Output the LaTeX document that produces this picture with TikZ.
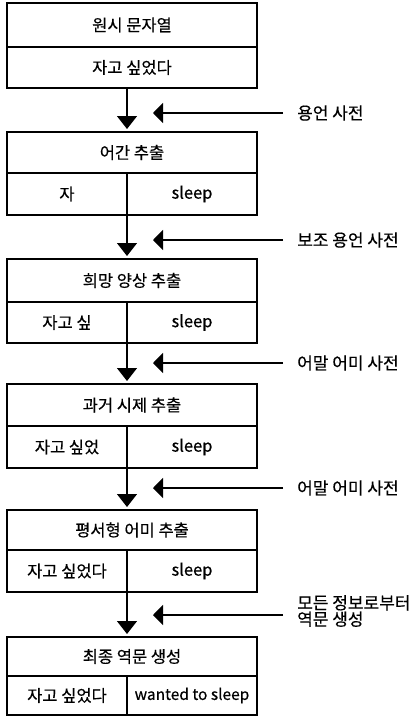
\documentclass[tikz,border=0pt]{standalone}
\usepackage{fontspec}
\setmainfont{Noto Sans CJK KR}[FakeBold=0.4]
\usetikzlibrary{arrows.meta}
\begin{document}
\begin{tikzpicture}[x=1pt,y=-1pt,
  cellbox/.style={draw,line width=1.3pt,inner sep=0pt,outer sep=0pt,anchor=north west,
    font=\fontsize{16.5}{18}\selectfont},
  flowarrow/.style={line width=1.4pt,-{Triangle[width=20pt,length=13pt]},shorten >=3pt},
  sidearrow/.style={line width=1.4pt,-{Triangle[width=20pt,length=10pt]},shorten <=14pt},
  sidelabel/.style={anchor=west,inner sep=0pt,align=left,font=\fontsize{17}{14}\selectfont}]
\useasboundingbox (0,0) rectangle (420,717);
% box 1
\node[cellbox,minimum width=250pt,minimum height=44pt] (t1) at (7,3) {원시 문자열};
\node[cellbox,minimum width=250pt,minimum height=41pt] (c1) at (7,47) {자고 싶었다};
% box 2
\node[cellbox,minimum width=250pt,minimum height=41pt] (t2) at (7,132) {어간 추출};
\node[cellbox,minimum width=120pt,minimum height=42pt] (l2) at (7,173) {자};
\node[cellbox,minimum width=130pt,minimum height=42pt] (r2) at (127,173) {sleep};
% box 3
\node[cellbox,minimum width=250pt,minimum height=43pt] (t3) at (7,259) {희망 양상 추출};
\node[cellbox,minimum width=120pt,minimum height=41pt] (l3) at (7,302) {자고 싶};
\node[cellbox,minimum width=130pt,minimum height=41pt] (r3) at (127,302) {sleep};
% box 4
\node[cellbox,minimum width=250pt,minimum height=42pt] (t4) at (7,384) {과거 시제 추출};
\node[cellbox,minimum width=120pt,minimum height=42pt] (l4) at (7,426) {자고 싶었};
\node[cellbox,minimum width=130pt,minimum height=42pt] (r4) at (127,426) {sleep};
% box 5
\node[cellbox,minimum width=250pt,minimum height=40pt] (t5) at (7,510) {평서형 어미 추출};
\node[cellbox,minimum width=120pt,minimum height=42pt] (l5) at (7,550) {자고 싶었다};
\node[cellbox,minimum width=130pt,minimum height=42pt] (r5) at (127,550) {sleep};
% box 6
\node[cellbox,minimum width=250pt,minimum height=39pt] (t6) at (7,637) {최종 역문 생성};
\node[cellbox,minimum width=120pt,minimum height=39pt] (l6) at (7,676) {자고 싶었다};
\node[cellbox,minimum width=130pt,minimum height=39pt,font=\fontsize{15.5}{17}\selectfont] (r6) at (127,676) {wanted to sleep};
% down arrows
\coordinate (a1) at (127,88);
\draw[flowarrow] (a1) -- (a1 |- t2.north);
\draw[flowarrow] (l2.south east) -- (l2.south east |- t3.north);
\draw[flowarrow] (l3.south east) -- (l3.south east |- t4.north);
\draw[flowarrow] (l4.south east) -- (l4.south east |- t5.north);
\draw[flowarrow] (l5.south east) -- (l5.south east |- t6.north);
% side labels and arrows
\node[sidelabel] (d1) at (297,113) {용언 사전};
\node[sidelabel] (d2) at (297,240) {보조 용언 사전};
\node[sidelabel] (d3) at (297,363) {어말 어미 사전};
\node[sidelabel] (d4) at (297,488) {어말 어미 사전};
\node[sidelabel] (d5) at (297,611) {모든 정보로부터\\역문 생성};
\coordinate (p1) at (153,113);
\coordinate (p2) at (153,240);
\coordinate (p3) at (153,363);
\coordinate (p4) at (153,488);
\coordinate (p5) at (153,615);
\draw[sidearrow] (d1.west) -- (p1);
\draw[sidearrow] (d2.west) -- (p2);
\draw[sidearrow] (d3.west) -- (p3);
\draw[sidearrow] (d4.west) -- (p4);
\draw[sidearrow] (d5.west |- p5) -- (p5);
\end{tikzpicture}
\end{document}
